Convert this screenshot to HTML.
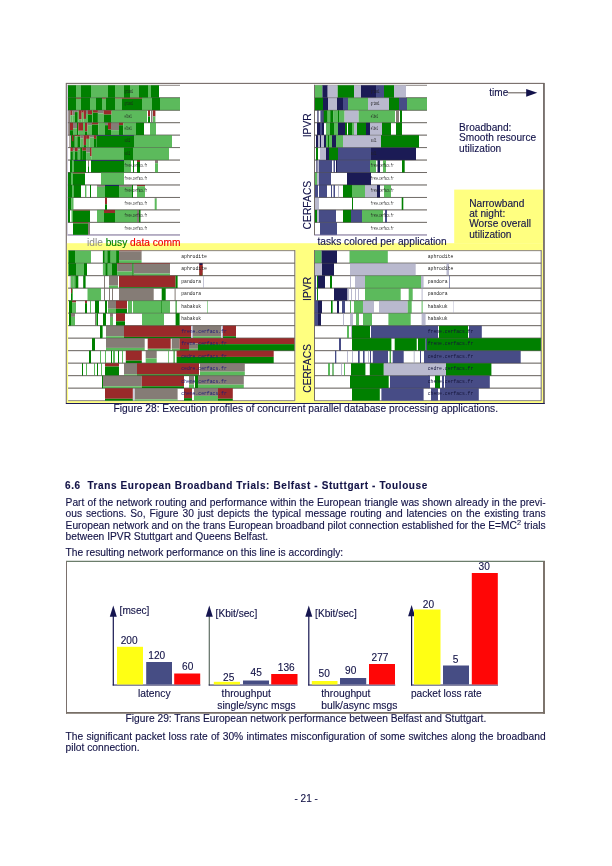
<!DOCTYPE html>
<html><head><meta charset="utf-8"><title>page 21</title>
<style>
html,body{margin:0;padding:0;background:#fff;}
body{width:612px;height:866px;position:relative;overflow:hidden;font-family:"Liberation Sans",sans-serif;color:#121246;}
svg{position:absolute;left:0;top:0;}
svg text{font-family:"Liberation Sans",sans-serif;}
svg text.b{stroke:#121246;stroke-width:0.12px;}
svg text.mono{font-family:"Liberation Mono","Liberation Sans",monospace;}
.t{-webkit-text-stroke:0.12px #121246;position:absolute;white-space:nowrap;font-size:10.24px;line-height:12px;height:12px;}
.j{text-align:justify;text-align-last:justify;white-space:normal;}
.h{font-weight:bold;font-size:10px;letter-spacing:0.6px;}
sup{font-size:7.4px;line-height:0;vertical-align:4.3px;}
</style></head><body>
<svg width="612" height="866" viewBox="0 0 612 866">
<rect x="66.30" y="83.40" width="477.60" height="319.80" fill="#fff" stroke="#766c68" stroke-width="1.1"/>
<rect x="66.90" y="243.20" width="476.40" height="159.75" fill="#ffff80"/>
<rect x="454.20" y="189.60" width="89.10" height="53.90" fill="#ffff80"/>
<line x1="543.95" y1="83.00" x2="543.95" y2="403.90" stroke="#6e6663" stroke-width="1.50"/>
<line x1="65.90" y1="403.45" x2="544.70" y2="403.45" stroke="#1a1a5a" stroke-width="1.10"/>
<rect x="67.40" y="85.00" width="112.60" height="150.22" fill="#fff"/>
<line x1="67.50" y1="85.30" x2="180.00" y2="85.30" stroke="#655c59" stroke-width="0.75"/>
<line x1="67.50" y1="97.76" x2="180.00" y2="97.76" stroke="#655c59" stroke-width="0.75"/>
<line x1="67.50" y1="110.22" x2="180.00" y2="110.22" stroke="#655c59" stroke-width="0.75"/>
<line x1="67.50" y1="122.68" x2="180.00" y2="122.68" stroke="#655c59" stroke-width="0.75"/>
<line x1="67.50" y1="135.14" x2="180.00" y2="135.14" stroke="#655c59" stroke-width="0.75"/>
<line x1="67.50" y1="147.60" x2="180.00" y2="147.60" stroke="#655c59" stroke-width="0.75"/>
<line x1="67.50" y1="160.06" x2="180.00" y2="160.06" stroke="#655c59" stroke-width="0.75"/>
<line x1="67.50" y1="172.52" x2="180.00" y2="172.52" stroke="#655c59" stroke-width="0.75"/>
<line x1="67.50" y1="184.98" x2="180.00" y2="184.98" stroke="#655c59" stroke-width="0.75"/>
<line x1="67.50" y1="197.44" x2="180.00" y2="197.44" stroke="#655c59" stroke-width="0.75"/>
<line x1="67.50" y1="209.90" x2="180.00" y2="209.90" stroke="#655c59" stroke-width="0.75"/>
<line x1="67.50" y1="222.36" x2="180.00" y2="222.36" stroke="#655c59" stroke-width="0.75"/>
<line x1="67.50" y1="234.82" x2="180.00" y2="234.82" stroke="#655c59" stroke-width="0.75"/>
<line x1="67.50" y1="235.02" x2="180.00" y2="235.02" stroke="#b4adc8" stroke-width="1.50"/>
<rect x="68.00" y="85.30" width="8.00" height="12.46" fill="#008000"/>
<rect x="76.00" y="85.30" width="5.00" height="12.46" fill="#5cba5c"/>
<rect x="81.00" y="85.30" width="10.00" height="12.46" fill="#008000"/>
<rect x="91.00" y="85.30" width="17.00" height="12.46" fill="#5cba5c"/>
<rect x="108.00" y="85.30" width="7.00" height="12.46" fill="#008000"/>
<rect x="115.00" y="85.30" width="9.00" height="12.46" fill="#5cba5c"/>
<rect x="124.00" y="85.30" width="6.00" height="12.46" fill="#008000"/>
<rect x="130.00" y="85.30" width="9.00" height="12.46" fill="#5cba5c"/>
<rect x="139.00" y="85.30" width="9.00" height="12.46" fill="#008000"/>
<rect x="148.00" y="85.30" width="3.00" height="12.46" fill="#5cba5c"/>
<rect x="151.00" y="85.30" width="8.00" height="12.46" fill="#008000"/>
<rect x="68.00" y="97.76" width="8.00" height="12.46" fill="#008000"/>
<rect x="76.00" y="97.76" width="5.00" height="12.46" fill="#5cba5c"/>
<rect x="76.00" y="97.76" width="5.00" height="1.00" fill="#9a2a2a"/>
<rect x="76.00" y="98.76" width="5.00" height="11.46" fill="#5cba5c"/>
<rect x="81.00" y="97.76" width="9.00" height="12.46" fill="#008000"/>
<rect x="90.00" y="97.76" width="6.00" height="12.46" fill="#5cba5c"/>
<rect x="96.00" y="97.76" width="6.00" height="12.46" fill="#008000"/>
<rect x="102.00" y="97.76" width="4.00" height="1.00" fill="#9a2a2a"/>
<rect x="102.00" y="98.76" width="4.00" height="11.46" fill="#5cba5c"/>
<rect x="106.00" y="97.76" width="9.00" height="12.46" fill="#008000"/>
<rect x="115.00" y="97.76" width="7.00" height="0.87" fill="#9a2a2a"/>
<rect x="115.00" y="98.63" width="7.00" height="11.59" fill="#5cba5c"/>
<rect x="122.00" y="97.76" width="20.00" height="1.00" fill="#9a2a2a"/>
<rect x="122.00" y="98.76" width="20.00" height="11.46" fill="#008000"/>
<rect x="142.00" y="97.76" width="10.00" height="12.46" fill="#5cba5c"/>
<rect x="152.00" y="97.76" width="8.00" height="12.46" fill="#008000"/>
<rect x="160.00" y="97.76" width="20.00" height="12.46" fill="#5cba5c"/>
<rect x="68.20" y="110.22" width="2.20" height="12.46" fill="#857c76"/>
<rect x="70.40" y="110.22" width="2.00" height="4.98" fill="#9a2a2a"/>
<rect x="70.40" y="115.20" width="2.00" height="7.48" fill="#5cba5c"/>
<rect x="72.40" y="110.22" width="2.40" height="4.98" fill="#857c76"/>
<rect x="72.40" y="115.20" width="2.40" height="7.48" fill="#5cba5c"/>
<rect x="74.80" y="110.22" width="3.00" height="1.87" fill="#857c76"/>
<rect x="74.80" y="112.09" width="3.00" height="10.59" fill="#008000"/>
<rect x="77.80" y="110.22" width="1.00" height="12.46" fill="#5cba5c"/>
<rect x="78.80" y="110.22" width="2.90" height="9.34" fill="#9a2a2a"/>
<rect x="78.80" y="119.57" width="2.90" height="3.11" fill="#5cba5c"/>
<rect x="81.70" y="110.22" width="1.90" height="2.49" fill="#9a2a2a"/>
<rect x="81.70" y="112.71" width="1.90" height="9.97" fill="#5cba5c"/>
<rect x="83.60" y="110.22" width="2.40" height="8.72" fill="#9a2a2a"/>
<rect x="83.60" y="118.94" width="2.40" height="3.74" fill="#5cba5c"/>
<rect x="86.00" y="110.22" width="2.00" height="3.74" fill="#857c76"/>
<rect x="86.00" y="113.96" width="2.00" height="8.72" fill="#5cba5c"/>
<rect x="88.00" y="110.22" width="4.00" height="4.36" fill="#9a2a2a"/>
<rect x="88.00" y="114.58" width="4.00" height="8.10" fill="#008000"/>
<rect x="92.00" y="110.22" width="1.00" height="12.46" fill="#5cba5c"/>
<rect x="93.00" y="110.22" width="4.90" height="2.49" fill="#9a2a2a"/>
<rect x="93.00" y="112.71" width="4.90" height="9.97" fill="#008000"/>
<rect x="97.90" y="110.22" width="5.80" height="3.11" fill="#857c76"/>
<rect x="97.90" y="113.34" width="5.80" height="9.34" fill="#5cba5c"/>
<rect x="103.70" y="110.22" width="7.90" height="4.36" fill="#9a2a2a"/>
<rect x="103.70" y="114.58" width="7.90" height="8.10" fill="#008000"/>
<rect x="111.60" y="110.22" width="35.40" height="12.46" fill="#5cba5c"/>
<rect x="148.00" y="110.22" width="2.00" height="6.23" fill="#9a2a2a"/>
<rect x="148.00" y="116.45" width="2.00" height="6.23" fill="#008000"/>
<rect x="151.00" y="110.22" width="1.50" height="12.46" fill="#857c76"/>
<rect x="153.00" y="110.22" width="2.40" height="6.23" fill="#9a2a2a"/>
<rect x="153.00" y="116.45" width="2.40" height="6.23" fill="#5cba5c"/>
<rect x="68.20" y="122.68" width="1.80" height="12.46" fill="#857c76"/>
<rect x="70.00" y="122.68" width="3.00" height="7.48" fill="#9a2a2a"/>
<rect x="70.00" y="130.16" width="3.00" height="4.98" fill="#008000"/>
<rect x="73.00" y="122.68" width="4.00" height="5.61" fill="#857c76"/>
<rect x="73.00" y="128.29" width="4.00" height="6.85" fill="#5cba5c"/>
<rect x="77.00" y="122.68" width="1.30" height="12.46" fill="#008000"/>
<rect x="78.30" y="122.68" width="4.70" height="8.10" fill="#9a2a2a"/>
<rect x="78.30" y="130.78" width="4.70" height="4.36" fill="#5cba5c"/>
<rect x="83.00" y="122.68" width="2.00" height="12.46" fill="#5cba5c"/>
<rect x="85.00" y="122.68" width="2.50" height="8.72" fill="#9a2a2a"/>
<rect x="85.00" y="131.40" width="2.50" height="3.74" fill="#008000"/>
<rect x="87.50" y="122.68" width="4.50" height="2.49" fill="#857c76"/>
<rect x="87.50" y="125.17" width="4.50" height="9.97" fill="#5cba5c"/>
<rect x="92.00" y="122.68" width="6.40" height="1.87" fill="#9a2a2a"/>
<rect x="92.00" y="124.55" width="6.40" height="10.59" fill="#008000"/>
<rect x="98.40" y="122.68" width="6.60" height="12.46" fill="#5cba5c"/>
<rect x="105.00" y="122.68" width="3.00" height="2.49" fill="#857c76"/>
<rect x="105.00" y="125.17" width="3.00" height="9.97" fill="#008000"/>
<rect x="108.00" y="122.68" width="3.00" height="6.85" fill="#9a2a2a"/>
<rect x="108.00" y="129.53" width="3.00" height="5.61" fill="#008000"/>
<rect x="111.00" y="122.68" width="8.00" height="7.48" fill="#857c76"/>
<rect x="111.00" y="130.16" width="8.00" height="4.98" fill="#5cba5c"/>
<rect x="119.00" y="122.68" width="4.40" height="2.49" fill="#9a2a2a"/>
<rect x="119.00" y="125.17" width="4.40" height="9.97" fill="#008000"/>
<rect x="123.40" y="122.68" width="6.60" height="12.46" fill="#5cba5c"/>
<rect x="130.00" y="122.68" width="6.00" height="12.46" fill="#5cba5c"/>
<rect x="136.00" y="122.68" width="8.00" height="12.46" fill="#008000"/>
<rect x="150.00" y="122.68" width="6.00" height="12.46" fill="#5cba5c"/>
<rect x="69.00" y="135.14" width="0.60" height="12.46" fill="#857c76"/>
<rect x="70.20" y="135.14" width="0.60" height="12.46" fill="#857c76"/>
<rect x="71.00" y="135.14" width="3.80" height="12.46" fill="#008000"/>
<rect x="72.00" y="135.14" width="1.50" height="6.23" fill="#9a2a2a"/>
<rect x="72.00" y="141.37" width="1.50" height="6.23" fill="#008000"/>
<rect x="74.80" y="135.14" width="2.50" height="1.25" fill="#9a2a2a"/>
<rect x="74.80" y="136.39" width="2.50" height="11.21" fill="#5cba5c"/>
<rect x="77.30" y="135.14" width="2.90" height="1.25" fill="#9a2a2a"/>
<rect x="77.30" y="136.39" width="2.90" height="11.21" fill="#008000"/>
<rect x="80.20" y="135.14" width="3.40" height="3.12" fill="#857c76"/>
<rect x="80.20" y="138.26" width="3.40" height="9.34" fill="#5cba5c"/>
<rect x="83.60" y="135.14" width="2.50" height="9.97" fill="#9a2a2a"/>
<rect x="83.60" y="145.11" width="2.50" height="2.49" fill="#008000"/>
<rect x="86.10" y="135.14" width="3.40" height="3.74" fill="#9a2a2a"/>
<rect x="86.10" y="138.88" width="3.40" height="8.72" fill="#5cba5c"/>
<rect x="89.50" y="135.14" width="4.50" height="2.49" fill="#857c76"/>
<rect x="89.50" y="137.63" width="4.50" height="9.97" fill="#5cba5c"/>
<rect x="94.00" y="135.14" width="2.40" height="3.74" fill="#9a2a2a"/>
<rect x="94.00" y="138.88" width="2.40" height="8.72" fill="#008000"/>
<rect x="96.40" y="135.14" width="37.60" height="0.75" fill="#1b1b6a"/>
<rect x="96.40" y="135.89" width="37.60" height="11.71" fill="#008000"/>
<rect x="134.00" y="135.14" width="38.00" height="12.46" fill="#5cba5c"/>
<rect x="70.40" y="147.60" width="2.50" height="3.74" fill="#9a2a2a"/>
<rect x="70.40" y="151.34" width="2.50" height="8.72" fill="#008000"/>
<rect x="72.90" y="147.60" width="1.90" height="3.12" fill="#857c76"/>
<rect x="72.90" y="150.72" width="1.90" height="9.34" fill="#5cba5c"/>
<rect x="74.80" y="147.60" width="3.00" height="3.74" fill="#9a2a2a"/>
<rect x="74.80" y="151.34" width="3.00" height="8.72" fill="#008000"/>
<rect x="77.80" y="147.60" width="2.40" height="1.87" fill="#857c76"/>
<rect x="77.80" y="149.47" width="2.40" height="10.59" fill="#5cba5c"/>
<rect x="80.20" y="147.60" width="2.00" height="12.46" fill="#008000"/>
<rect x="82.20" y="147.60" width="3.90" height="3.12" fill="#9a2a2a"/>
<rect x="82.20" y="150.72" width="3.90" height="9.34" fill="#008000"/>
<rect x="86.10" y="147.60" width="3.90" height="4.98" fill="#857c76"/>
<rect x="86.10" y="152.58" width="3.90" height="7.48" fill="#5cba5c"/>
<rect x="90.00" y="147.60" width="1.70" height="8.72" fill="#9a2a2a"/>
<rect x="90.00" y="156.32" width="1.70" height="3.74" fill="#5cba5c"/>
<rect x="91.70" y="147.60" width="32.30" height="12.46" fill="#5cba5c"/>
<rect x="124.00" y="147.60" width="9.00" height="12.46" fill="#008000"/>
<rect x="133.00" y="147.60" width="36.00" height="12.46" fill="#5cba5c"/>
<rect x="70.00" y="160.06" width="2.00" height="12.46" fill="#008000"/>
<rect x="72.00" y="160.06" width="1.60" height="12.46" fill="#5cba5c"/>
<rect x="73.60" y="160.06" width="12.40" height="0.87" fill="#1b1b6a"/>
<rect x="73.60" y="160.93" width="12.40" height="11.59" fill="#008000"/>
<rect x="88.00" y="160.06" width="1.00" height="6.23" fill="#857c76"/>
<rect x="88.00" y="166.29" width="1.00" height="6.23" fill="#008000"/>
<rect x="91.00" y="160.06" width="33.00" height="0.87" fill="#1b1b6a"/>
<rect x="91.00" y="160.93" width="33.00" height="11.59" fill="#008000"/>
<rect x="124.00" y="160.06" width="7.00" height="12.46" fill="#5cba5c"/>
<rect x="133.00" y="160.06" width="1.00" height="12.46" fill="#008000"/>
<rect x="137.00" y="160.06" width="3.00" height="12.46" fill="#008000"/>
<rect x="137.00" y="160.06" width="3.00" height="1.87" fill="#9a2a2a"/>
<rect x="137.00" y="161.93" width="3.00" height="10.59" fill="#008000"/>
<rect x="155.00" y="160.06" width="3.00" height="3.12" fill="#857c76"/>
<rect x="155.00" y="163.18" width="3.00" height="9.34" fill="#5cba5c"/>
<rect x="68.00" y="172.52" width="3.00" height="12.46" fill="#008000"/>
<rect x="71.00" y="172.52" width="2.00" height="12.46" fill="#5cba5c"/>
<rect x="73.00" y="172.52" width="12.00" height="1.00" fill="#9a2a2a"/>
<rect x="73.00" y="173.52" width="12.00" height="11.46" fill="#008000"/>
<rect x="101.00" y="172.52" width="23.00" height="12.46" fill="#5cba5c"/>
<rect x="68.00" y="184.98" width="4.00" height="12.46" fill="#008000"/>
<rect x="72.00" y="184.98" width="1.50" height="12.46" fill="#5cba5c"/>
<rect x="73.50" y="184.98" width="7.50" height="12.46" fill="#008000"/>
<rect x="85.00" y="184.98" width="1.40" height="12.46" fill="#5cba5c"/>
<rect x="90.00" y="184.98" width="1.00" height="12.46" fill="#008000"/>
<rect x="97.00" y="184.98" width="8.00" height="1.87" fill="#857c76"/>
<rect x="97.00" y="186.85" width="8.00" height="10.59" fill="#5cba5c"/>
<rect x="105.00" y="184.98" width="14.00" height="1.00" fill="#1b1b6a"/>
<rect x="105.00" y="185.98" width="14.00" height="11.46" fill="#008000"/>
<rect x="119.00" y="184.98" width="13.00" height="1.87" fill="#857c76"/>
<rect x="119.00" y="186.85" width="13.00" height="10.59" fill="#5cba5c"/>
<rect x="132.00" y="184.98" width="1.00" height="12.46" fill="#008000"/>
<rect x="137.00" y="184.98" width="8.00" height="1.25" fill="#9a2a2a"/>
<rect x="137.00" y="186.23" width="8.00" height="11.21" fill="#5cba5c"/>
<rect x="68.00" y="197.44" width="3.50" height="12.46" fill="#008000"/>
<rect x="71.50" y="197.44" width="2.00" height="12.46" fill="#5cba5c"/>
<rect x="105.00" y="197.44" width="2.00" height="6.85" fill="#9a2a2a"/>
<rect x="105.00" y="204.29" width="2.00" height="5.61" fill="#008000"/>
<rect x="154.70" y="197.44" width="2.00" height="1.25" fill="#857c76"/>
<rect x="154.70" y="198.69" width="2.00" height="11.21" fill="#5cba5c"/>
<rect x="68.00" y="209.90" width="2.00" height="12.46" fill="#008000"/>
<rect x="71.50" y="209.90" width="1.50" height="12.46" fill="#5cba5c"/>
<rect x="73.00" y="209.90" width="17.00" height="0.75" fill="#9a2a2a"/>
<rect x="73.00" y="210.65" width="17.00" height="11.71" fill="#008000"/>
<rect x="97.00" y="209.90" width="7.00" height="12.46" fill="#5cba5c"/>
<rect x="104.00" y="209.90" width="11.00" height="3.12" fill="#9a2a2a"/>
<rect x="104.00" y="213.02" width="11.00" height="9.34" fill="#008000"/>
<rect x="115.00" y="209.90" width="22.00" height="12.46" fill="#5cba5c"/>
<rect x="137.00" y="209.90" width="2.00" height="12.46" fill="#857c76"/>
<rect x="139.00" y="209.90" width="1.50" height="12.46" fill="#008000"/>
<rect x="73.00" y="222.36" width="15.00" height="1.00" fill="#9a2a2a"/>
<rect x="73.00" y="223.36" width="15.00" height="11.46" fill="#008000"/>
<rect x="88.00" y="222.36" width="2.00" height="12.46" fill="#857c76"/>
<line x1="68.00" y1="97.76" x2="180.00" y2="97.76" stroke="#3a3a30" stroke-width="0.75" opacity="0.45"/>
<line x1="68.00" y1="110.22" x2="180.00" y2="110.22" stroke="#3a3a30" stroke-width="0.75" opacity="0.45"/>
<line x1="68.00" y1="122.68" x2="180.00" y2="122.68" stroke="#3a3a30" stroke-width="0.75" opacity="0.45"/>
<line x1="68.00" y1="135.14" x2="180.00" y2="135.14" stroke="#3a3a30" stroke-width="0.75" opacity="0.45"/>
<line x1="68.00" y1="147.60" x2="180.00" y2="147.60" stroke="#3a3a30" stroke-width="0.75" opacity="0.45"/>
<line x1="68.00" y1="160.06" x2="180.00" y2="160.06" stroke="#3a3a30" stroke-width="0.75" opacity="0.45"/>
<line x1="68.00" y1="172.52" x2="180.00" y2="172.52" stroke="#3a3a30" stroke-width="0.75" opacity="0.45"/>
<line x1="68.00" y1="184.98" x2="180.00" y2="184.98" stroke="#3a3a30" stroke-width="0.75" opacity="0.45"/>
<line x1="68.00" y1="197.44" x2="180.00" y2="197.44" stroke="#3a3a30" stroke-width="0.75" opacity="0.45"/>
<line x1="68.00" y1="209.90" x2="180.00" y2="209.90" stroke="#3a3a30" stroke-width="0.75" opacity="0.45"/>
<line x1="68.00" y1="222.36" x2="180.00" y2="222.36" stroke="#3a3a30" stroke-width="0.75" opacity="0.45"/>
<line x1="67.50" y1="85.00" x2="67.50" y2="234.92" stroke="#c9c4d8" stroke-width="0.80"/>
<text transform="translate(124.50 92.60) scale(0.41 1)" class="mono" font-size="5.80" fill="#222">grimm1</text>
<text transform="translate(124.50 105.06) scale(0.41 1)" class="mono" font-size="5.80" fill="#222">grimm1</text>
<text transform="translate(124.50 117.52) scale(0.41 1)" class="mono" font-size="5.80" fill="#222">elbe1</text>
<text transform="translate(124.50 129.98) scale(0.41 1)" class="mono" font-size="5.80" fill="#222">elbe1</text>
<text transform="translate(124.50 142.44) scale(0.41 1)" class="mono" font-size="5.80" fill="#222">sol1</text>
<text transform="translate(124.50 154.90) scale(0.41 1)" class="mono" font-size="5.80" fill="#222">sol1</text>
<text transform="translate(124.50 167.36) scale(0.41 1)" class="mono" font-size="5.80" fill="#222">frene.cerfacs.fr</text>
<text transform="translate(124.50 179.82) scale(0.41 1)" class="mono" font-size="5.80" fill="#222">frene.cerfacs.fr</text>
<text transform="translate(124.50 192.28) scale(0.41 1)" class="mono" font-size="5.80" fill="#222">frene.cerfacs.fr</text>
<text transform="translate(124.50 204.74) scale(0.41 1)" class="mono" font-size="5.80" fill="#222">frene.cerfacs.fr</text>
<text transform="translate(124.50 217.20) scale(0.41 1)" class="mono" font-size="5.80" fill="#222">frene.cerfacs.fr</text>
<text transform="translate(124.50 229.66) scale(0.41 1)" class="mono" font-size="5.80" fill="#222">frene.cerfacs.fr</text>
<rect x="314.20" y="85.00" width="112.80" height="150.22" fill="#fff"/>
<line x1="314.30" y1="85.30" x2="427.00" y2="85.30" stroke="#655c59" stroke-width="0.75"/>
<line x1="314.30" y1="97.76" x2="427.00" y2="97.76" stroke="#655c59" stroke-width="0.75"/>
<line x1="314.30" y1="110.22" x2="427.00" y2="110.22" stroke="#655c59" stroke-width="0.75"/>
<line x1="314.30" y1="122.68" x2="427.00" y2="122.68" stroke="#655c59" stroke-width="0.75"/>
<line x1="314.30" y1="135.14" x2="427.00" y2="135.14" stroke="#655c59" stroke-width="0.75"/>
<line x1="314.30" y1="147.60" x2="427.00" y2="147.60" stroke="#655c59" stroke-width="0.75"/>
<line x1="314.30" y1="160.06" x2="427.00" y2="160.06" stroke="#655c59" stroke-width="0.75"/>
<line x1="314.30" y1="172.52" x2="427.00" y2="172.52" stroke="#655c59" stroke-width="0.75"/>
<line x1="314.30" y1="184.98" x2="427.00" y2="184.98" stroke="#655c59" stroke-width="0.75"/>
<line x1="314.30" y1="197.44" x2="427.00" y2="197.44" stroke="#655c59" stroke-width="0.75"/>
<line x1="314.30" y1="209.90" x2="427.00" y2="209.90" stroke="#655c59" stroke-width="0.75"/>
<line x1="314.30" y1="222.36" x2="427.00" y2="222.36" stroke="#655c59" stroke-width="0.75"/>
<line x1="314.30" y1="234.82" x2="427.00" y2="234.82" stroke="#655c59" stroke-width="0.75"/>
<line x1="314.30" y1="235.02" x2="427.00" y2="235.02" stroke="#b4adc8" stroke-width="1.50"/>
<rect x="315.00" y="85.30" width="7.40" height="12.46" fill="#5cba5c"/>
<rect x="322.40" y="85.30" width="5.30" height="12.46" fill="#1b1b55"/>
<rect x="327.70" y="85.30" width="10.00" height="12.46" fill="#b9b9ce"/>
<rect x="337.70" y="85.30" width="16.30" height="12.46" fill="#008000"/>
<rect x="354.00" y="85.30" width="7.00" height="12.46" fill="#b9b9ce"/>
<rect x="361.00" y="85.30" width="15.00" height="12.46" fill="#1b1b55"/>
<rect x="376.00" y="85.30" width="8.00" height="12.46" fill="#474c86"/>
<rect x="384.00" y="85.30" width="10.00" height="12.46" fill="#008000"/>
<rect x="394.00" y="85.30" width="12.00" height="12.46" fill="#b9b9ce"/>
<rect x="315.00" y="97.76" width="8.00" height="12.46" fill="#008000"/>
<rect x="323.00" y="97.76" width="5.00" height="12.46" fill="#1b1b55"/>
<rect x="328.00" y="97.76" width="9.00" height="12.46" fill="#b9b9ce"/>
<rect x="337.00" y="97.76" width="6.00" height="12.46" fill="#1b1b55"/>
<rect x="343.00" y="97.76" width="5.00" height="12.46" fill="#474c86"/>
<rect x="348.00" y="97.76" width="20.00" height="12.46" fill="#5cba5c"/>
<rect x="368.00" y="97.76" width="21.00" height="12.46" fill="#b9b9ce"/>
<rect x="389.00" y="97.76" width="10.00" height="12.46" fill="#008000"/>
<rect x="399.00" y="97.76" width="8.00" height="12.46" fill="#474c86"/>
<rect x="407.00" y="97.76" width="20.00" height="12.46" fill="#5cba5c"/>
<rect x="317.40" y="110.22" width="1.10" height="12.46" fill="#1b1b55"/>
<rect x="320.40" y="110.22" width="1.90" height="12.46" fill="#474c86"/>
<rect x="322.30" y="110.22" width="1.50" height="12.46" fill="#1b1b55"/>
<rect x="323.80" y="110.22" width="3.90" height="12.46" fill="#008000"/>
<rect x="327.70" y="110.22" width="2.50" height="12.46" fill="#5cba5c"/>
<rect x="330.20" y="110.22" width="2.90" height="12.46" fill="#008000"/>
<rect x="333.10" y="110.22" width="4.90" height="12.46" fill="#5cba5c"/>
<rect x="338.00" y="110.22" width="1.00" height="12.46" fill="#008000"/>
<rect x="339.00" y="110.22" width="5.60" height="12.46" fill="#5cba5c"/>
<rect x="344.60" y="110.22" width="14.00" height="12.46" fill="#b9b9ce"/>
<rect x="358.60" y="110.22" width="36.40" height="12.46" fill="#5cba5c"/>
<rect x="396.00" y="110.22" width="3.00" height="12.46" fill="#857c76"/>
<rect x="400.00" y="110.22" width="2.00" height="12.46" fill="#008000"/>
<rect x="317.00" y="122.68" width="3.00" height="12.46" fill="#1b1b55"/>
<rect x="320.00" y="122.68" width="2.00" height="12.46" fill="#474c86"/>
<rect x="322.00" y="122.68" width="2.00" height="12.46" fill="#1b1b55"/>
<rect x="326.00" y="122.68" width="4.00" height="12.46" fill="#5cba5c"/>
<rect x="330.00" y="122.68" width="4.00" height="12.46" fill="#008000"/>
<rect x="334.00" y="122.68" width="4.00" height="12.46" fill="#5cba5c"/>
<rect x="338.00" y="122.68" width="7.00" height="12.46" fill="#1b1b55"/>
<rect x="345.00" y="122.68" width="2.00" height="12.46" fill="#008000"/>
<rect x="348.00" y="122.68" width="4.00" height="12.46" fill="#008000"/>
<rect x="352.00" y="122.68" width="2.00" height="12.46" fill="#5cba5c"/>
<rect x="354.00" y="122.68" width="3.00" height="12.46" fill="#b9b9ce"/>
<rect x="357.00" y="122.68" width="9.00" height="12.46" fill="#008000"/>
<rect x="366.00" y="122.68" width="4.00" height="12.46" fill="#1b1b55"/>
<rect x="370.00" y="122.68" width="12.00" height="12.46" fill="#b9b9ce"/>
<rect x="382.00" y="122.68" width="9.00" height="12.46" fill="#008000"/>
<rect x="396.00" y="122.68" width="6.00" height="12.46" fill="#008000"/>
<rect x="316.00" y="135.14" width="2.00" height="12.46" fill="#1b1b55"/>
<rect x="318.00" y="135.14" width="2.00" height="12.46" fill="#b9b9ce"/>
<rect x="320.00" y="135.14" width="1.00" height="12.46" fill="#1b1b55"/>
<rect x="321.00" y="135.14" width="3.00" height="12.46" fill="#b9b9ce"/>
<rect x="324.00" y="135.14" width="2.00" height="12.46" fill="#1b1b55"/>
<rect x="326.00" y="135.14" width="2.00" height="12.46" fill="#5cba5c"/>
<rect x="328.00" y="135.14" width="1.00" height="12.46" fill="#008000"/>
<rect x="329.00" y="135.14" width="3.00" height="12.46" fill="#5cba5c"/>
<rect x="332.00" y="135.14" width="4.00" height="12.46" fill="#1b1b55"/>
<rect x="336.00" y="135.14" width="7.00" height="12.46" fill="#5cba5c"/>
<rect x="343.00" y="135.14" width="38.00" height="12.46" fill="#b9b9ce"/>
<rect x="381.00" y="135.14" width="38.00" height="12.46" fill="#008000"/>
<rect x="316.00" y="147.60" width="2.00" height="12.46" fill="#008000"/>
<rect x="320.00" y="147.60" width="6.00" height="12.46" fill="#b9b9ce"/>
<rect x="326.00" y="147.60" width="3.00" height="12.46" fill="#1b1b55"/>
<rect x="329.00" y="147.60" width="9.00" height="12.46" fill="#008000"/>
<rect x="338.00" y="147.60" width="33.00" height="12.46" fill="#474c86"/>
<rect x="371.00" y="147.60" width="45.00" height="12.46" fill="#1b1b55"/>
<rect x="316.40" y="160.06" width="1.20" height="12.46" fill="#1b1b55"/>
<rect x="317.60" y="160.06" width="1.40" height="12.46" fill="#b9b9ce"/>
<rect x="319.00" y="160.06" width="13.00" height="12.46" fill="#474c86"/>
<rect x="333.50" y="160.06" width="1.50" height="12.46" fill="#474c86"/>
<rect x="336.00" y="160.06" width="1.00" height="12.46" fill="#1b1b55"/>
<rect x="337.00" y="160.06" width="33.00" height="12.46" fill="#474c86"/>
<rect x="370.00" y="160.06" width="6.00" height="12.46" fill="#5cba5c"/>
<rect x="377.50" y="160.06" width="2.50" height="12.46" fill="#1b1b55"/>
<rect x="383.00" y="160.06" width="3.00" height="12.46" fill="#5cba5c"/>
<rect x="402.00" y="160.06" width="2.70" height="12.46" fill="#008000"/>
<rect x="315.00" y="172.52" width="2.00" height="12.46" fill="#5cba5c"/>
<rect x="317.00" y="172.52" width="2.00" height="12.46" fill="#b9b9ce"/>
<rect x="319.00" y="172.52" width="12.00" height="12.46" fill="#474c86"/>
<rect x="347.00" y="172.52" width="24.00" height="12.46" fill="#1b1b55"/>
<rect x="315.00" y="184.98" width="3.00" height="12.46" fill="#474c86"/>
<rect x="319.00" y="184.98" width="8.00" height="12.46" fill="#474c86"/>
<rect x="331.00" y="184.98" width="1.00" height="12.46" fill="#474c86"/>
<rect x="333.50" y="184.98" width="1.50" height="12.46" fill="#474c86"/>
<rect x="338.00" y="184.98" width="1.00" height="12.46" fill="#b9b9ce"/>
<rect x="343.00" y="184.98" width="9.00" height="12.46" fill="#008000"/>
<rect x="352.00" y="184.98" width="13.00" height="12.46" fill="#5cba5c"/>
<rect x="365.00" y="184.98" width="12.00" height="12.46" fill="#b9b9ce"/>
<rect x="377.00" y="184.98" width="3.00" height="12.46" fill="#1b1b55"/>
<rect x="384.00" y="184.98" width="7.00" height="12.46" fill="#5cba5c"/>
<rect x="315.00" y="197.44" width="4.00" height="12.46" fill="#b9b9ce"/>
<rect x="352.00" y="197.44" width="1.00" height="12.46" fill="#008000"/>
<rect x="401.70" y="197.44" width="1.60" height="12.46" fill="#008000"/>
<rect x="315.00" y="209.90" width="2.00" height="12.46" fill="#008000"/>
<rect x="317.00" y="209.90" width="2.00" height="12.46" fill="#b9b9ce"/>
<rect x="319.00" y="209.90" width="17.00" height="12.46" fill="#474c86"/>
<rect x="343.00" y="209.90" width="8.00" height="12.46" fill="#008000"/>
<rect x="351.00" y="209.90" width="11.00" height="12.46" fill="#474c86"/>
<rect x="362.00" y="209.90" width="21.00" height="12.46" fill="#5cba5c"/>
<rect x="385.00" y="209.90" width="2.00" height="12.46" fill="#474c86"/>
<rect x="320.00" y="222.36" width="17.00" height="12.46" fill="#474c86"/>
<line x1="314.80" y1="97.76" x2="427.00" y2="97.76" stroke="#3a3a30" stroke-width="0.75" opacity="0.45"/>
<line x1="314.80" y1="110.22" x2="427.00" y2="110.22" stroke="#3a3a30" stroke-width="0.75" opacity="0.45"/>
<line x1="314.80" y1="122.68" x2="427.00" y2="122.68" stroke="#3a3a30" stroke-width="0.75" opacity="0.45"/>
<line x1="314.80" y1="135.14" x2="427.00" y2="135.14" stroke="#3a3a30" stroke-width="0.75" opacity="0.45"/>
<line x1="314.80" y1="147.60" x2="427.00" y2="147.60" stroke="#3a3a30" stroke-width="0.75" opacity="0.45"/>
<line x1="314.80" y1="160.06" x2="427.00" y2="160.06" stroke="#3a3a30" stroke-width="0.75" opacity="0.45"/>
<line x1="314.80" y1="172.52" x2="427.00" y2="172.52" stroke="#3a3a30" stroke-width="0.75" opacity="0.45"/>
<line x1="314.80" y1="184.98" x2="427.00" y2="184.98" stroke="#3a3a30" stroke-width="0.75" opacity="0.45"/>
<line x1="314.80" y1="197.44" x2="427.00" y2="197.44" stroke="#3a3a30" stroke-width="0.75" opacity="0.45"/>
<line x1="314.80" y1="209.90" x2="427.00" y2="209.90" stroke="#3a3a30" stroke-width="0.75" opacity="0.45"/>
<line x1="314.80" y1="222.36" x2="427.00" y2="222.36" stroke="#3a3a30" stroke-width="0.75" opacity="0.45"/>
<line x1="314.50" y1="84.80" x2="314.50" y2="234.92" stroke="#655c59" stroke-width="0.90"/>
<text transform="translate(370.80 92.60) scale(0.41 1)" class="mono" font-size="5.80" fill="#222">grimm1</text>
<text transform="translate(370.80 105.06) scale(0.41 1)" class="mono" font-size="5.80" fill="#222">grimm1</text>
<text transform="translate(370.80 117.52) scale(0.41 1)" class="mono" font-size="5.80" fill="#222">elbe1</text>
<text transform="translate(370.80 129.98) scale(0.41 1)" class="mono" font-size="5.80" fill="#222">elbe1</text>
<text transform="translate(370.80 142.44) scale(0.41 1)" class="mono" font-size="5.80" fill="#222">sol1</text>
<text transform="translate(370.80 154.90) scale(0.41 1)" class="mono" font-size="5.80" fill="#222">sol1</text>
<text transform="translate(370.80 167.36) scale(0.41 1)" class="mono" font-size="5.80" fill="#222">frene.cerfacs.fr</text>
<text transform="translate(370.80 179.82) scale(0.41 1)" class="mono" font-size="5.80" fill="#222">frene.cerfacs.fr</text>
<text transform="translate(370.80 192.28) scale(0.41 1)" class="mono" font-size="5.80" fill="#222">frene.cerfacs.fr</text>
<text transform="translate(370.80 204.74) scale(0.41 1)" class="mono" font-size="5.80" fill="#222">frene.cerfacs.fr</text>
<text transform="translate(370.80 217.20) scale(0.41 1)" class="mono" font-size="5.80" fill="#222">frene.cerfacs.fr</text>
<text transform="translate(370.80 229.66) scale(0.41 1)" class="mono" font-size="5.80" fill="#222">frene.cerfacs.fr</text>
<rect x="68.10" y="250.35" width="227.30" height="150.70" fill="#fff"/>
<line x1="68.10" y1="250.65" x2="294.80" y2="250.65" stroke="#655c59" stroke-width="0.75"/>
<line x1="68.10" y1="263.15" x2="294.80" y2="263.15" stroke="#655c59" stroke-width="0.75"/>
<line x1="68.10" y1="275.65" x2="294.80" y2="275.65" stroke="#655c59" stroke-width="0.75"/>
<line x1="68.10" y1="288.15" x2="294.80" y2="288.15" stroke="#655c59" stroke-width="0.75"/>
<line x1="68.10" y1="300.65" x2="294.80" y2="300.65" stroke="#655c59" stroke-width="0.75"/>
<line x1="68.10" y1="313.15" x2="294.80" y2="313.15" stroke="#655c59" stroke-width="0.75"/>
<line x1="68.10" y1="325.65" x2="294.80" y2="325.65" stroke="#655c59" stroke-width="0.75"/>
<line x1="68.10" y1="338.15" x2="294.80" y2="338.15" stroke="#655c59" stroke-width="0.75"/>
<line x1="68.10" y1="350.65" x2="294.80" y2="350.65" stroke="#655c59" stroke-width="0.75"/>
<line x1="68.10" y1="363.15" x2="294.80" y2="363.15" stroke="#655c59" stroke-width="0.75"/>
<line x1="68.10" y1="375.65" x2="294.80" y2="375.65" stroke="#655c59" stroke-width="0.75"/>
<line x1="68.10" y1="388.15" x2="294.80" y2="388.15" stroke="#655c59" stroke-width="0.75"/>
<line x1="68.10" y1="400.65" x2="294.80" y2="400.65" stroke="#655c59" stroke-width="0.75"/>
<rect x="68.40" y="250.65" width="6.60" height="12.50" fill="#008000"/>
<rect x="75.00" y="250.65" width="16.00" height="12.50" fill="#5cba5c"/>
<rect x="102.90" y="250.65" width="1.90" height="12.50" fill="#008000"/>
<rect x="104.80" y="250.65" width="2.50" height="12.50" fill="#5cba5c"/>
<rect x="107.30" y="250.65" width="3.40" height="12.50" fill="#008000"/>
<rect x="110.70" y="250.65" width="5.40" height="12.50" fill="#5cba5c"/>
<rect x="116.10" y="250.65" width="2.90" height="12.50" fill="#008000"/>
<rect x="119.00" y="250.65" width="22.60" height="0.62" fill="#9a2a2a"/>
<rect x="119.00" y="251.28" width="22.60" height="8.87" fill="#857c76"/>
<rect x="119.00" y="260.15" width="22.60" height="3.00" fill="#5cba5c"/>
<rect x="68.40" y="263.15" width="7.60" height="12.50" fill="#008000"/>
<rect x="76.00" y="263.15" width="8.00" height="12.50" fill="#5cba5c"/>
<rect x="84.00" y="263.15" width="3.00" height="12.50" fill="#008000"/>
<rect x="102.90" y="263.15" width="2.40" height="12.50" fill="#5cba5c"/>
<rect x="105.30" y="263.15" width="2.50" height="12.50" fill="#008000"/>
<rect x="107.80" y="263.15" width="3.90" height="12.50" fill="#5cba5c"/>
<rect x="111.70" y="263.15" width="5.40" height="12.50" fill="#008000"/>
<rect x="117.10" y="263.15" width="15.20" height="0.75" fill="#9a2a2a"/>
<rect x="117.10" y="263.90" width="15.20" height="7.50" fill="#857c76"/>
<rect x="117.10" y="271.40" width="15.20" height="4.25" fill="#5cba5c"/>
<rect x="132.30" y="263.15" width="1.40" height="12.50" fill="#008000"/>
<rect x="133.70" y="263.15" width="36.30" height="0.75" fill="#9a2a2a"/>
<rect x="133.70" y="263.90" width="36.30" height="9.62" fill="#857c76"/>
<rect x="133.70" y="273.52" width="36.30" height="2.12" fill="#5cba5c"/>
<rect x="199.40" y="263.15" width="3.10" height="9.38" fill="#9a2a2a"/>
<rect x="199.40" y="272.52" width="3.10" height="3.12" fill="#008000"/>
<rect x="199.40" y="263.15" width="3.10" height="1.88" fill="#1b1b55"/>
<rect x="199.40" y="265.02" width="3.10" height="10.62" fill="#9a2a2a"/>
<rect x="69.90" y="275.65" width="0.50" height="12.50" fill="#857c76"/>
<rect x="70.90" y="275.65" width="2.00" height="12.50" fill="#5cba5c"/>
<rect x="72.90" y="275.65" width="0.50" height="12.50" fill="#008000"/>
<rect x="73.40" y="275.65" width="1.90" height="12.50" fill="#5cba5c"/>
<rect x="75.30" y="275.65" width="3.00" height="12.50" fill="#008000"/>
<rect x="83.20" y="275.65" width="2.40" height="12.50" fill="#008000"/>
<rect x="104.00" y="275.65" width="1.00" height="12.50" fill="#857c76"/>
<rect x="109.00" y="275.65" width="9.00" height="10.00" fill="#857c76"/>
<rect x="109.00" y="285.65" width="9.00" height="2.50" fill="#5cba5c"/>
<rect x="119.00" y="275.65" width="56.60" height="11.62" fill="#9a2a2a"/>
<rect x="119.00" y="287.27" width="56.60" height="0.88" fill="#008000"/>
<rect x="175.60" y="275.65" width="2.00" height="12.50" fill="#008000"/>
<rect x="203.00" y="275.65" width="0.80" height="12.50" fill="#b9b9ce"/>
<rect x="71.00" y="288.15" width="1.00" height="5.00" fill="#9a2a2a"/>
<rect x="71.00" y="293.15" width="1.00" height="7.50" fill="#008000"/>
<rect x="72.00" y="288.15" width="1.00" height="12.50" fill="#5cba5c"/>
<rect x="87.50" y="288.15" width="13.50" height="12.50" fill="#5cba5c"/>
<rect x="104.00" y="288.15" width="1.00" height="12.50" fill="#857c76"/>
<rect x="109.00" y="288.15" width="1.00" height="12.50" fill="#857c76"/>
<rect x="112.00" y="288.15" width="1.00" height="12.50" fill="#857c76"/>
<rect x="119.00" y="288.15" width="34.70" height="12.50" fill="#857c76"/>
<rect x="161.70" y="288.15" width="4.00" height="12.50" fill="#008000"/>
<rect x="174.60" y="288.15" width="1.00" height="12.50" fill="#857c76"/>
<rect x="69.00" y="300.65" width="3.00" height="12.50" fill="#008000"/>
<rect x="72.00" y="300.65" width="4.00" height="1.88" fill="#9a2a2a"/>
<rect x="72.00" y="302.52" width="4.00" height="10.62" fill="#5cba5c"/>
<rect x="85.00" y="300.65" width="2.00" height="2.50" fill="#9a2a2a"/>
<rect x="85.00" y="303.15" width="2.00" height="10.00" fill="#008000"/>
<rect x="90.00" y="300.65" width="1.00" height="12.50" fill="#5cba5c"/>
<rect x="95.00" y="300.65" width="4.00" height="12.50" fill="#008000"/>
<rect x="105.00" y="300.65" width="2.00" height="12.50" fill="#008000"/>
<rect x="108.00" y="300.65" width="8.00" height="8.12" fill="#857c76"/>
<rect x="108.00" y="308.77" width="8.00" height="4.38" fill="#5cba5c"/>
<rect x="116.00" y="300.65" width="11.00" height="8.12" fill="#9a2a2a"/>
<rect x="116.00" y="308.77" width="11.00" height="4.38" fill="#008000"/>
<rect x="128.00" y="300.65" width="4.00" height="12.50" fill="#5cba5c"/>
<rect x="133.00" y="300.65" width="37.00" height="12.50" fill="#5cba5c"/>
<rect x="161.50" y="300.65" width="0.50" height="12.50" fill="#008000"/>
<rect x="175.60" y="300.65" width="1.00" height="12.50" fill="#008000"/>
<rect x="207.20" y="300.65" width="0.60" height="12.50" fill="#5cba5c"/>
<rect x="69.00" y="313.15" width="2.00" height="12.50" fill="#008000"/>
<rect x="71.00" y="313.15" width="4.00" height="3.75" fill="#857c76"/>
<rect x="71.00" y="316.90" width="4.00" height="8.75" fill="#5cba5c"/>
<rect x="95.00" y="313.15" width="1.00" height="12.50" fill="#857c76"/>
<rect x="96.00" y="313.15" width="1.00" height="12.50" fill="#5cba5c"/>
<rect x="97.00" y="313.15" width="1.00" height="12.50" fill="#008000"/>
<rect x="103.00" y="313.15" width="3.00" height="12.50" fill="#008000"/>
<rect x="110.00" y="313.15" width="3.00" height="3.75" fill="#857c76"/>
<rect x="110.00" y="316.90" width="3.00" height="8.75" fill="#5cba5c"/>
<rect x="116.00" y="313.15" width="9.00" height="8.12" fill="#9a2a2a"/>
<rect x="116.00" y="321.27" width="9.00" height="4.38" fill="#008000"/>
<rect x="142.00" y="313.15" width="22.00" height="12.50" fill="#5cba5c"/>
<rect x="175.60" y="313.15" width="4.00" height="12.50" fill="#008000"/>
<rect x="100.00" y="325.65" width="2.00" height="12.50" fill="#008000"/>
<rect x="102.00" y="325.65" width="1.00" height="12.50" fill="#5cba5c"/>
<rect x="106.00" y="325.65" width="18.00" height="10.62" fill="#857c76"/>
<rect x="106.00" y="336.27" width="18.00" height="1.88" fill="#5cba5c"/>
<rect x="124.00" y="325.65" width="67.00" height="11.25" fill="#9a2a2a"/>
<rect x="124.00" y="336.90" width="67.00" height="1.25" fill="#008000"/>
<rect x="191.50" y="325.65" width="1.50" height="12.50" fill="#b9b9ce"/>
<rect x="193.00" y="325.65" width="28.00" height="10.62" fill="#857c76"/>
<rect x="193.00" y="336.27" width="28.00" height="1.88" fill="#5cba5c"/>
<rect x="221.50" y="325.65" width="1.50" height="12.50" fill="#b9b9ce"/>
<rect x="223.00" y="325.65" width="13.00" height="10.62" fill="#9a2a2a"/>
<rect x="223.00" y="336.27" width="13.00" height="1.88" fill="#008000"/>
<rect x="92.00" y="338.15" width="3.00" height="12.50" fill="#008000"/>
<rect x="106.00" y="338.15" width="38.70" height="9.75" fill="#857c76"/>
<rect x="106.00" y="347.90" width="38.70" height="2.75" fill="#5cba5c"/>
<rect x="147.70" y="338.15" width="23.00" height="10.62" fill="#9a2a2a"/>
<rect x="147.70" y="348.77" width="23.00" height="1.88" fill="#5cba5c"/>
<rect x="171.70" y="338.15" width="7.90" height="10.62" fill="#857c76"/>
<rect x="171.70" y="348.77" width="7.90" height="1.88" fill="#5cba5c"/>
<rect x="179.60" y="338.15" width="9.40" height="11.00" fill="#9a2a2a"/>
<rect x="179.60" y="349.15" width="9.40" height="1.50" fill="#008000"/>
<rect x="189.00" y="338.15" width="9.00" height="5.25" fill="#9a2a2a"/>
<rect x="189.00" y="343.40" width="9.00" height="5.38" fill="#857c76"/>
<rect x="189.00" y="348.77" width="9.00" height="1.88" fill="#5cba5c"/>
<rect x="198.00" y="338.15" width="96.60" height="6.00" fill="#9a2a2a"/>
<rect x="198.00" y="344.15" width="96.60" height="6.50" fill="#008000"/>
<rect x="89.00" y="350.65" width="2.00" height="12.50" fill="#008000"/>
<rect x="100.00" y="350.65" width="1.00" height="12.50" fill="#5cba5c"/>
<rect x="105.00" y="350.65" width="1.00" height="12.50" fill="#5cba5c"/>
<rect x="111.00" y="350.65" width="1.00" height="12.50" fill="#008000"/>
<rect x="113.00" y="350.65" width="2.00" height="12.50" fill="#5cba5c"/>
<rect x="118.00" y="350.65" width="1.00" height="12.50" fill="#008000"/>
<rect x="122.00" y="350.65" width="1.00" height="12.50" fill="#5cba5c"/>
<rect x="125.80" y="350.65" width="16.00" height="10.00" fill="#9a2a2a"/>
<rect x="125.80" y="360.65" width="16.00" height="2.50" fill="#008000"/>
<rect x="145.70" y="350.65" width="11.00" height="7.75" fill="#857c76"/>
<rect x="145.70" y="358.40" width="11.00" height="4.75" fill="#5cba5c"/>
<rect x="168.00" y="350.65" width="0.80" height="12.50" fill="#5cba5c"/>
<rect x="173.60" y="350.65" width="1.00" height="12.50" fill="#008000"/>
<rect x="176.60" y="350.65" width="97.10" height="6.25" fill="#9a2a2a"/>
<rect x="176.60" y="356.90" width="97.10" height="6.25" fill="#008000"/>
<rect x="82.00" y="363.15" width="1.00" height="12.50" fill="#008000"/>
<rect x="86.00" y="363.15" width="1.00" height="12.50" fill="#5cba5c"/>
<rect x="94.00" y="363.15" width="1.00" height="12.50" fill="#5cba5c"/>
<rect x="97.00" y="363.15" width="1.00" height="12.50" fill="#008000"/>
<rect x="101.00" y="363.15" width="1.00" height="12.50" fill="#5cba5c"/>
<rect x="105.00" y="363.15" width="14.00" height="3.38" fill="#9a2a2a"/>
<rect x="105.00" y="366.52" width="14.00" height="9.12" fill="#008000"/>
<rect x="124.00" y="363.15" width="13.00" height="11.25" fill="#857c76"/>
<rect x="124.00" y="374.40" width="13.00" height="1.25" fill="#5cba5c"/>
<rect x="137.00" y="363.15" width="62.00" height="11.25" fill="#9a2a2a"/>
<rect x="137.00" y="374.40" width="62.00" height="1.25" fill="#008000"/>
<rect x="200.00" y="363.15" width="44.80" height="8.50" fill="#857c76"/>
<rect x="200.00" y="371.65" width="44.80" height="4.00" fill="#5cba5c"/>
<rect x="102.00" y="375.65" width="1.00" height="12.50" fill="#008000"/>
<rect x="103.00" y="375.65" width="38.80" height="10.62" fill="#857c76"/>
<rect x="103.00" y="386.27" width="38.80" height="1.88" fill="#5cba5c"/>
<rect x="141.80" y="375.65" width="42.20" height="10.62" fill="#9a2a2a"/>
<rect x="141.80" y="386.27" width="42.20" height="1.88" fill="#008000"/>
<rect x="189.00" y="375.65" width="5.00" height="8.75" fill="#857c76"/>
<rect x="189.00" y="384.40" width="5.00" height="3.75" fill="#5cba5c"/>
<rect x="195.00" y="375.65" width="3.00" height="12.50" fill="#008000"/>
<rect x="198.00" y="375.65" width="45.80" height="9.00" fill="#857c76"/>
<rect x="198.00" y="384.65" width="45.80" height="3.50" fill="#5cba5c"/>
<rect x="105.00" y="388.15" width="27.80" height="10.62" fill="#9a2a2a"/>
<rect x="105.00" y="398.77" width="27.80" height="1.88" fill="#008000"/>
<rect x="133.30" y="388.15" width="1.30" height="12.50" fill="#b9b9ce"/>
<rect x="134.80" y="388.15" width="42.80" height="11.25" fill="#857c76"/>
<rect x="134.80" y="399.40" width="42.80" height="1.25" fill="#5cba5c"/>
<rect x="184.00" y="388.15" width="8.00" height="10.00" fill="#9a2a2a"/>
<rect x="184.00" y="398.15" width="8.00" height="2.50" fill="#008000"/>
<rect x="194.00" y="388.15" width="24.00" height="7.75" fill="#857c76"/>
<rect x="194.00" y="395.90" width="24.00" height="4.75" fill="#5cba5c"/>
<rect x="218.00" y="388.15" width="14.80" height="10.62" fill="#9a2a2a"/>
<rect x="218.00" y="398.77" width="14.80" height="1.88" fill="#008000"/>
<line x1="68.00" y1="263.15" x2="294.80" y2="263.15" stroke="#3a3a30" stroke-width="0.75" opacity="0.45"/>
<line x1="68.00" y1="275.65" x2="294.80" y2="275.65" stroke="#3a3a30" stroke-width="0.75" opacity="0.45"/>
<line x1="68.00" y1="288.15" x2="294.80" y2="288.15" stroke="#3a3a30" stroke-width="0.75" opacity="0.45"/>
<line x1="68.00" y1="300.65" x2="294.80" y2="300.65" stroke="#3a3a30" stroke-width="0.75" opacity="0.45"/>
<line x1="68.00" y1="313.15" x2="294.80" y2="313.15" stroke="#3a3a30" stroke-width="0.75" opacity="0.45"/>
<line x1="68.00" y1="325.65" x2="294.80" y2="325.65" stroke="#3a3a30" stroke-width="0.75" opacity="0.45"/>
<line x1="68.00" y1="338.15" x2="294.80" y2="338.15" stroke="#3a3a30" stroke-width="0.75" opacity="0.45"/>
<line x1="68.00" y1="350.65" x2="294.80" y2="350.65" stroke="#3a3a30" stroke-width="0.75" opacity="0.45"/>
<line x1="68.00" y1="363.15" x2="294.80" y2="363.15" stroke="#3a3a30" stroke-width="0.75" opacity="0.45"/>
<line x1="68.00" y1="375.65" x2="294.80" y2="375.65" stroke="#3a3a30" stroke-width="0.75" opacity="0.45"/>
<line x1="68.00" y1="388.15" x2="294.80" y2="388.15" stroke="#3a3a30" stroke-width="0.75" opacity="0.45"/>
<line x1="294.80" y1="250.15" x2="294.80" y2="400.75" stroke="#655c59" stroke-width="0.90"/>
<text transform="translate(181.20 257.95) scale(0.82 1)" class="mono" font-size="5.80" fill="#222">aphrodite</text>
<text transform="translate(181.20 270.45) scale(0.82 1)" class="mono" font-size="5.80" fill="#222">aphrodite</text>
<text transform="translate(181.20 282.95) scale(0.82 1)" class="mono" font-size="5.80" fill="#222">pandora</text>
<text transform="translate(181.20 295.45) scale(0.82 1)" class="mono" font-size="5.80" fill="#222">pandora</text>
<text transform="translate(181.20 307.95) scale(0.82 1)" class="mono" font-size="5.80" fill="#222">habakuk</text>
<text transform="translate(181.20 320.45) scale(0.82 1)" class="mono" font-size="5.80" fill="#222">habakuk</text>
<text transform="translate(181.20 332.95) scale(0.82 1)" class="mono" font-size="5.80" fill="#1b1b78">frene.cerfacs.fr</text>
<text transform="translate(181.20 345.45) scale(0.82 1)" class="mono" font-size="5.80" fill="#1b1b78">frene.cerfacs.fr</text>
<text transform="translate(181.20 357.95) scale(0.82 1)" class="mono" font-size="5.80" fill="#1b1b78">cedre.cerfacs.fr</text>
<text transform="translate(181.20 370.45) scale(0.82 1)" class="mono" font-size="5.80" fill="#1b1b78">cedre.cerfacs.fr</text>
<text transform="translate(181.20 382.95) scale(0.82 1)" class="mono" font-size="5.80" fill="#1b1b78">chene.cerfacs.fr</text>
<text transform="translate(181.20 395.45) scale(0.82 1)" class="mono" font-size="5.80" fill="#1b1b78">chene.cerfacs.fr</text>
<rect x="314.20" y="250.35" width="227.60" height="150.70" fill="#fff"/>
<line x1="314.30" y1="250.65" x2="541.20" y2="250.65" stroke="#655c59" stroke-width="0.75"/>
<line x1="314.30" y1="263.15" x2="541.20" y2="263.15" stroke="#655c59" stroke-width="0.75"/>
<line x1="314.30" y1="275.65" x2="541.20" y2="275.65" stroke="#655c59" stroke-width="0.75"/>
<line x1="314.30" y1="288.15" x2="541.20" y2="288.15" stroke="#655c59" stroke-width="0.75"/>
<line x1="314.30" y1="300.65" x2="541.20" y2="300.65" stroke="#655c59" stroke-width="0.75"/>
<line x1="314.30" y1="313.15" x2="541.20" y2="313.15" stroke="#655c59" stroke-width="0.75"/>
<line x1="314.30" y1="325.65" x2="541.20" y2="325.65" stroke="#655c59" stroke-width="0.75"/>
<line x1="314.30" y1="338.15" x2="541.20" y2="338.15" stroke="#655c59" stroke-width="0.75"/>
<line x1="314.30" y1="350.65" x2="541.20" y2="350.65" stroke="#655c59" stroke-width="0.75"/>
<line x1="314.30" y1="363.15" x2="541.20" y2="363.15" stroke="#655c59" stroke-width="0.75"/>
<line x1="314.30" y1="375.65" x2="541.20" y2="375.65" stroke="#655c59" stroke-width="0.75"/>
<line x1="314.30" y1="388.15" x2="541.20" y2="388.15" stroke="#655c59" stroke-width="0.75"/>
<line x1="314.30" y1="400.65" x2="541.20" y2="400.65" stroke="#655c59" stroke-width="0.75"/>
<rect x="315.00" y="250.65" width="6.60" height="12.50" fill="#5cba5c"/>
<rect x="321.60" y="250.65" width="15.40" height="12.50" fill="#1b1b55"/>
<rect x="349.50" y="250.65" width="38.30" height="12.50" fill="#5cba5c"/>
<rect x="315.00" y="263.15" width="7.00" height="12.50" fill="#b9b9ce"/>
<rect x="322.00" y="263.15" width="12.00" height="12.50" fill="#1b1b55"/>
<rect x="350.00" y="263.15" width="65.70" height="12.50" fill="#b9b9ce"/>
<rect x="446.50" y="263.15" width="2.50" height="12.50" fill="#b9b9ce"/>
<rect x="315.00" y="275.65" width="1.00" height="12.50" fill="#474c86"/>
<rect x="317.00" y="275.65" width="1.00" height="12.50" fill="#008000"/>
<rect x="318.00" y="275.65" width="7.00" height="12.50" fill="#1b1b55"/>
<rect x="330.00" y="275.65" width="2.00" height="12.50" fill="#008000"/>
<rect x="350.00" y="275.65" width="1.00" height="12.50" fill="#b9b9ce"/>
<rect x="355.00" y="275.65" width="10.00" height="12.50" fill="#b9b9ce"/>
<rect x="365.00" y="275.65" width="56.00" height="12.50" fill="#5cba5c"/>
<rect x="421.00" y="275.65" width="2.60" height="12.50" fill="#b9b9ce"/>
<rect x="449.40" y="275.65" width="0.60" height="12.50" fill="#474c86"/>
<rect x="315.00" y="288.15" width="1.00" height="12.50" fill="#474c86"/>
<rect x="317.00" y="288.15" width="1.00" height="12.50" fill="#008000"/>
<rect x="334.00" y="288.15" width="13.50" height="12.50" fill="#1b1b55"/>
<rect x="347.50" y="288.15" width="1.50" height="12.50" fill="#b9b9ce"/>
<rect x="351.00" y="288.15" width="1.00" height="12.50" fill="#b9b9ce"/>
<rect x="355.00" y="288.15" width="1.00" height="12.50" fill="#b9b9ce"/>
<rect x="358.00" y="288.15" width="1.00" height="12.50" fill="#b9b9ce"/>
<rect x="365.00" y="288.15" width="35.70" height="12.50" fill="#5cba5c"/>
<rect x="408.70" y="288.15" width="4.00" height="12.50" fill="#5cba5c"/>
<rect x="421.60" y="288.15" width="1.00" height="12.50" fill="#b9b9ce"/>
<rect x="315.00" y="300.65" width="3.00" height="12.50" fill="#474c86"/>
<rect x="318.00" y="300.65" width="4.00" height="12.50" fill="#1b1b55"/>
<rect x="331.00" y="300.65" width="1.00" height="12.50" fill="#008000"/>
<rect x="332.00" y="300.65" width="1.00" height="12.50" fill="#5cba5c"/>
<rect x="337.00" y="300.65" width="2.00" height="12.50" fill="#1b1b55"/>
<rect x="342.00" y="300.65" width="3.00" height="12.50" fill="#474c86"/>
<rect x="350.00" y="300.65" width="1.00" height="12.50" fill="#5cba5c"/>
<rect x="354.00" y="300.65" width="9.00" height="12.50" fill="#5cba5c"/>
<rect x="363.00" y="300.65" width="11.00" height="12.50" fill="#b9b9ce"/>
<rect x="379.00" y="300.65" width="28.70" height="12.50" fill="#b9b9ce"/>
<rect x="407.70" y="300.65" width="4.00" height="12.50" fill="#5cba5c"/>
<rect x="421.60" y="300.65" width="1.00" height="12.50" fill="#5cba5c"/>
<rect x="453.50" y="300.65" width="0.50" height="12.50" fill="#b9b9ce"/>
<rect x="315.00" y="313.15" width="3.00" height="12.50" fill="#474c86"/>
<rect x="318.00" y="313.15" width="3.00" height="12.50" fill="#1b1b55"/>
<rect x="343.00" y="313.15" width="1.00" height="12.50" fill="#b9b9ce"/>
<rect x="350.00" y="313.15" width="3.00" height="12.50" fill="#b9b9ce"/>
<rect x="356.00" y="313.15" width="3.00" height="12.50" fill="#5cba5c"/>
<rect x="363.00" y="313.15" width="9.00" height="12.50" fill="#5cba5c"/>
<rect x="388.40" y="313.15" width="22.30" height="12.50" fill="#5cba5c"/>
<rect x="421.60" y="313.15" width="4.00" height="12.50" fill="#b9b9ce"/>
<rect x="347.00" y="325.65" width="2.00" height="12.50" fill="#5cba5c"/>
<rect x="351.00" y="325.65" width="1.00" height="12.50" fill="#b9b9ce"/>
<rect x="352.00" y="325.65" width="18.00" height="12.50" fill="#008000"/>
<rect x="371.00" y="325.65" width="67.00" height="12.50" fill="#474c86"/>
<rect x="439.00" y="325.65" width="29.00" height="12.50" fill="#008000"/>
<rect x="469.00" y="325.65" width="12.80" height="12.50" fill="#474c86"/>
<rect x="339.00" y="338.15" width="2.00" height="12.50" fill="#474c86"/>
<rect x="352.00" y="338.15" width="39.40" height="12.50" fill="#008000"/>
<rect x="394.70" y="338.15" width="22.00" height="12.50" fill="#008000"/>
<rect x="418.00" y="338.15" width="7.60" height="12.50" fill="#008000"/>
<rect x="425.60" y="338.15" width="1.40" height="12.50" fill="#474c86"/>
<rect x="427.00" y="338.15" width="114.00" height="12.50" fill="#008000"/>
<rect x="335.00" y="350.65" width="1.30" height="12.50" fill="#474c86"/>
<rect x="347.00" y="350.65" width="1.00" height="12.50" fill="#b9b9ce"/>
<rect x="352.00" y="350.65" width="1.00" height="12.50" fill="#b9b9ce"/>
<rect x="358.00" y="350.65" width="1.70" height="12.50" fill="#474c86"/>
<rect x="363.00" y="350.65" width="1.60" height="12.50" fill="#474c86"/>
<rect x="368.00" y="350.65" width="1.00" height="12.50" fill="#b9b9ce"/>
<rect x="370.00" y="350.65" width="1.00" height="12.50" fill="#474c86"/>
<rect x="372.80" y="350.65" width="15.20" height="12.50" fill="#474c86"/>
<rect x="389.70" y="350.65" width="1.00" height="12.50" fill="#008000"/>
<rect x="392.70" y="350.65" width="11.00" height="12.50" fill="#474c86"/>
<rect x="413.70" y="350.65" width="1.00" height="12.50" fill="#b9b9ce"/>
<rect x="420.00" y="350.65" width="1.00" height="12.50" fill="#474c86"/>
<rect x="424.00" y="350.65" width="96.70" height="12.50" fill="#474c86"/>
<rect x="328.00" y="363.15" width="2.00" height="12.50" fill="#5cba5c"/>
<rect x="332.50" y="363.15" width="1.00" height="12.50" fill="#008000"/>
<rect x="341.00" y="363.15" width="1.00" height="12.50" fill="#b9b9ce"/>
<rect x="344.00" y="363.15" width="1.00" height="12.50" fill="#5cba5c"/>
<rect x="351.00" y="363.15" width="14.40" height="12.50" fill="#008000"/>
<rect x="369.80" y="363.15" width="14.00" height="12.50" fill="#008000"/>
<rect x="383.80" y="363.15" width="62.20" height="12.50" fill="#b9b9ce"/>
<rect x="446.00" y="363.15" width="45.40" height="12.50" fill="#008000"/>
<rect x="350.00" y="375.65" width="38.70" height="12.50" fill="#008000"/>
<rect x="390.00" y="375.65" width="39.60" height="12.50" fill="#474c86"/>
<rect x="428.00" y="375.65" width="2.00" height="12.50" fill="#474c86"/>
<rect x="435.00" y="375.65" width="5.00" height="12.50" fill="#008000"/>
<rect x="442.00" y="375.65" width="2.00" height="12.50" fill="#474c86"/>
<rect x="445.00" y="375.65" width="44.80" height="12.50" fill="#474c86"/>
<rect x="352.00" y="388.15" width="27.80" height="12.50" fill="#008000"/>
<rect x="381.40" y="388.15" width="42.20" height="12.50" fill="#474c86"/>
<rect x="431.00" y="388.15" width="7.00" height="12.50" fill="#474c86"/>
<rect x="440.00" y="388.15" width="38.80" height="12.50" fill="#474c86"/>
<line x1="314.80" y1="263.15" x2="541.20" y2="263.15" stroke="#3a3a30" stroke-width="0.75" opacity="0.45"/>
<line x1="314.80" y1="275.65" x2="541.20" y2="275.65" stroke="#3a3a30" stroke-width="0.75" opacity="0.45"/>
<line x1="314.80" y1="288.15" x2="541.20" y2="288.15" stroke="#3a3a30" stroke-width="0.75" opacity="0.45"/>
<line x1="314.80" y1="300.65" x2="541.20" y2="300.65" stroke="#3a3a30" stroke-width="0.75" opacity="0.45"/>
<line x1="314.80" y1="313.15" x2="541.20" y2="313.15" stroke="#3a3a30" stroke-width="0.75" opacity="0.45"/>
<line x1="314.80" y1="325.65" x2="541.20" y2="325.65" stroke="#3a3a30" stroke-width="0.75" opacity="0.45"/>
<line x1="314.80" y1="338.15" x2="541.20" y2="338.15" stroke="#3a3a30" stroke-width="0.75" opacity="0.45"/>
<line x1="314.80" y1="350.65" x2="541.20" y2="350.65" stroke="#3a3a30" stroke-width="0.75" opacity="0.45"/>
<line x1="314.80" y1="363.15" x2="541.20" y2="363.15" stroke="#3a3a30" stroke-width="0.75" opacity="0.45"/>
<line x1="314.80" y1="375.65" x2="541.20" y2="375.65" stroke="#3a3a30" stroke-width="0.75" opacity="0.45"/>
<line x1="314.80" y1="388.15" x2="541.20" y2="388.15" stroke="#3a3a30" stroke-width="0.75" opacity="0.45"/>
<line x1="314.50" y1="250.15" x2="314.50" y2="400.75" stroke="#655c59" stroke-width="0.90"/>
<line x1="541.20" y1="250.15" x2="541.20" y2="400.75" stroke="#655c59" stroke-width="0.90"/>
<text transform="translate(427.70 257.95) scale(0.82 1)" class="mono" font-size="5.80" fill="#222">aphrodite</text>
<text transform="translate(427.70 270.45) scale(0.82 1)" class="mono" font-size="5.80" fill="#222">aphrodite</text>
<text transform="translate(427.70 282.95) scale(0.82 1)" class="mono" font-size="5.80" fill="#222">pandora</text>
<text transform="translate(427.70 295.45) scale(0.82 1)" class="mono" font-size="5.80" fill="#222">pandora</text>
<text transform="translate(427.70 307.95) scale(0.82 1)" class="mono" font-size="5.80" fill="#222">habakuk</text>
<text transform="translate(427.70 320.45) scale(0.82 1)" class="mono" font-size="5.80" fill="#222">habakuk</text>
<text transform="translate(427.70 332.95) scale(0.82 1)" class="mono" font-size="5.80" fill="#15153a">frene.cerfacs.fr</text>
<text transform="translate(427.70 345.45) scale(0.82 1)" class="mono" font-size="5.80" fill="#15153a">frene.cerfacs.fr</text>
<text transform="translate(427.70 357.95) scale(0.82 1)" class="mono" font-size="5.80" fill="#15153a">cedre.cerfacs.fr</text>
<text transform="translate(427.70 370.45) scale(0.82 1)" class="mono" font-size="5.80" fill="#15153a">cedre.cerfacs.fr</text>
<text transform="translate(427.70 382.95) scale(0.82 1)" class="mono" font-size="5.80" fill="#15153a">chene.cerfacs.fr</text>
<text transform="translate(427.70 395.45) scale(0.82 1)" class="mono" font-size="5.80" fill="#15153a">chene.cerfacs.fr</text>
<text transform="translate(311.4 137.3) rotate(-90)" class="b" font-size="10.3" fill="#12124a">IPVR</text>
<text transform="translate(311.4 229.4) rotate(-90)" class="b" font-size="10.3" fill="#12124a">CERFACS</text>
<text transform="translate(311.4 300.9) rotate(-90)" class="b" font-size="10.3" fill="#12124a">IPVR</text>
<text transform="translate(311.4 392.7) rotate(-90)" class="b" font-size="10.3" fill="#12124a">CERFACS</text>
<text x="87" y="245.8" font-size="10.2"><tspan fill="#8a8a8a">idle</tspan> <tspan fill="#008000" stroke="#008000" stroke-width="0.15">busy</tspan> <tspan fill="#f00000" stroke="#f00000" stroke-width="0.15">data comm</tspan></text>
<text class="b" x="317.50" y="245.20" font-size="10.20" fill="#12124a" text-anchor="start">tasks colored per application</text>
<text class="b" x="489.30" y="95.70" font-size="10.00" fill="#12124a" text-anchor="start">time</text>
<line x1="507.80" y1="92.80" x2="528.00" y2="92.80" stroke="#6a625e" stroke-width="1.10"/>
<polygon points="526.2,88.9 537.3,92.8 526.2,96.7" fill="#12124a"/>
<text class="b" x="459.00" y="130.80" font-size="10.15" fill="#12124a" text-anchor="start">Broadband:</text>
<text class="b" x="459.00" y="141.40" font-size="10.15" fill="#12124a" text-anchor="start">Smooth resource</text>
<text class="b" x="459.00" y="152.00" font-size="10.15" fill="#12124a" text-anchor="start">utilization</text>
<text class="b" x="469.20" y="206.70" font-size="10.15" fill="#12124a" text-anchor="start">Narrowband</text>
<text class="b" x="469.20" y="217.00" font-size="10.15" fill="#12124a" text-anchor="start">at night:</text>
<text class="b" x="469.20" y="227.30" font-size="10.15" fill="#12124a" text-anchor="start">Worse overall</text>
<text class="b" x="469.20" y="237.60" font-size="10.15" fill="#12124a" text-anchor="start">utilization</text>
<rect x="66.50" y="561.40" width="477.50" height="151.45" fill="#fff"/>
<line x1="66.00" y1="561.40" x2="544.90" y2="561.40" stroke="#6b7d6b" stroke-width="1.10"/>
<line x1="66.50" y1="561.00" x2="66.50" y2="713.70" stroke="#7a706c" stroke-width="1.00"/>
<line x1="544.00" y1="561.00" x2="544.00" y2="713.80" stroke="#776e66" stroke-width="1.90"/>
<line x1="66.00" y1="712.85" x2="544.95" y2="712.85" stroke="#776e66" stroke-width="1.90"/>
<line x1="113.30" y1="612.00" x2="113.30" y2="685.60" stroke="#15154f" stroke-width="1.20"/>
<line x1="112.70" y1="685.05" x2="200.40" y2="685.05" stroke="#15154f" stroke-width="0.95"/>
<polygon points="113.30,605.40 109.80,616.80 116.80,616.80" fill="#15154f"/>
<rect x="117.00" y="646.80" width="26.00" height="37.70" fill="#ffff14"/>
<text class="b" x="129.20" y="644.00" font-size="10.15" fill="#121246" text-anchor="middle">200</text>
<rect x="146.20" y="662.00" width="25.80" height="22.50" fill="#464d84"/>
<text class="b" x="156.80" y="658.50" font-size="10.15" fill="#121246" text-anchor="middle">120</text>
<rect x="174.20" y="673.50" width="26.00" height="11.00" fill="#ff0606"/>
<text class="b" x="187.70" y="669.80" font-size="10.15" fill="#121246" text-anchor="middle">60</text>
<text class="b" x="119.60" y="613.50" font-size="10.15" fill="#121246" text-anchor="start">[msec]</text>
<text class="b" x="154.30" y="696.90" font-size="10.30" fill="#121246" text-anchor="middle">latency</text>
<line x1="209.30" y1="612.00" x2="209.30" y2="685.60" stroke="#5f6e64" stroke-width="1.20"/>
<line x1="208.70" y1="685.05" x2="297.60" y2="685.05" stroke="#15154f" stroke-width="0.95"/>
<polygon points="209.30,605.40 205.80,616.80 212.80,616.80" fill="#15154f"/>
<rect x="213.80" y="681.80" width="26.20" height="2.70" fill="#ffff14"/>
<text class="b" x="228.75" y="680.50" font-size="10.15" fill="#121246" text-anchor="middle">25</text>
<rect x="243.00" y="680.50" width="26.00" height="4.00" fill="#464d84"/>
<text class="b" x="256.25" y="676.00" font-size="10.15" fill="#121246" text-anchor="middle">45</text>
<rect x="271.20" y="674.00" width="26.30" height="10.50" fill="#ff0606"/>
<text class="b" x="286.25" y="671.00" font-size="10.15" fill="#121246" text-anchor="middle">136</text>
<text class="b" x="215.60" y="616.50" font-size="10.15" fill="#121246" text-anchor="start">[Kbit/sec]</text>
<text class="b" x="221.60" y="696.90" font-size="10.30" fill="#121246" text-anchor="start">throughput</text>
<text class="b" x="217.30" y="708.60" font-size="10.30" fill="#121246" text-anchor="start">single/sync msgs</text>
<line x1="308.80" y1="612.00" x2="308.80" y2="685.60" stroke="#15154f" stroke-width="1.20"/>
<line x1="308.20" y1="685.05" x2="395.20" y2="685.05" stroke="#15154f" stroke-width="0.95"/>
<polygon points="308.80,605.40 305.30,616.80 312.30,616.80" fill="#15154f"/>
<rect x="311.80" y="681.00" width="25.70" height="3.50" fill="#ffff14"/>
<text class="b" x="324.25" y="676.80" font-size="10.15" fill="#121246" text-anchor="middle">50</text>
<rect x="340.00" y="678.00" width="26.20" height="6.50" fill="#464d84"/>
<text class="b" x="350.75" y="674.20" font-size="10.15" fill="#121246" text-anchor="middle">90</text>
<rect x="369.00" y="664.00" width="26.00" height="20.50" fill="#ff0606"/>
<text class="b" x="380.00" y="660.50" font-size="10.15" fill="#121246" text-anchor="middle">277</text>
<text class="b" x="315.10" y="616.50" font-size="10.15" fill="#121246" text-anchor="start">[Kbit/sec]</text>
<text class="b" x="321.20" y="696.90" font-size="10.30" fill="#121246" text-anchor="start">throughput</text>
<text class="b" x="321.20" y="708.60" font-size="10.30" fill="#121246" text-anchor="start">bulk/async msgs</text>
<line x1="411.60" y1="611.50" x2="411.60" y2="685.60" stroke="#15154f" stroke-width="1.20"/>
<line x1="411.00" y1="685.05" x2="498.00" y2="685.05" stroke="#15154f" stroke-width="0.95"/>
<polygon points="411.60,604.90 408.10,616.30 415.10,616.30" fill="#15154f"/>
<rect x="414.00" y="609.50" width="26.50" height="75.00" fill="#ffff14"/>
<text class="b" x="428.50" y="607.80" font-size="10.15" fill="#121246" text-anchor="middle">20</text>
<rect x="443.00" y="665.50" width="26.00" height="19.00" fill="#464d84"/>
<text class="b" x="455.50" y="663.00" font-size="10.15" fill="#121246" text-anchor="middle">5</text>
<rect x="471.80" y="573.00" width="26.00" height="111.50" fill="#ff0606"/>
<text class="b" x="484.25" y="569.80" font-size="10.15" fill="#121246" text-anchor="middle">30</text>
<text class="b" x="411.00" y="696.90" font-size="10.10" fill="#121246" text-anchor="start">packet loss rate</text>
</svg>
<div class="t" style="left:113.5px;top:402.60px;font-size:10.22px;">Figure 28: Execution profiles of concurrent parallel database processing applications.</div>
<div class="t h" style="left:65px;top:480.00px;">6.6&nbsp; Trans European Broadband Trials: Belfast - Stuttgart - Toulouse</div>
<div class="t j" style="left:65.6px;top:496.70px;width:480px;">Part of the network routing and performance within the European triangle was shown already in the previ-</div>
<div class="t j" style="left:65.6px;top:507.90px;width:480px;">ous sections. So, Figure 30 just depicts the typical message routing and latencies on the existing trans</div>
<div class="t j" style="left:65.6px;top:519.70px;width:480px;">European network and on the trans European broadband pilot connection established for the E=MC<sup>2</sup> trials</div>
<div class="t" style="left:65.6px;top:531.00px;">between IPVR Stuttgart and Queens Belfast.</div>
<div class="t" style="left:65.6px;top:547.40px;">The resulting network performance on this line is accordingly:</div>
<div class="t" style="left:125.6px;top:713.10px;font-size:10.24px;">Figure 29: Trans European network performance between Belfast and Stuttgart.</div>
<div class="t j" style="left:65.6px;top:730.80px;width:480px;">The significant packet loss rate of 30% intimates misconfiguration of some switches along the broadband</div>
<div class="t" style="left:65.6px;top:742.20px;">pilot connection.</div>
<div class="t" style="left:294.5px;top:792.50px;width:23px;text-align:center;font-size:10px;">- 21 -</div>
</body></html>
